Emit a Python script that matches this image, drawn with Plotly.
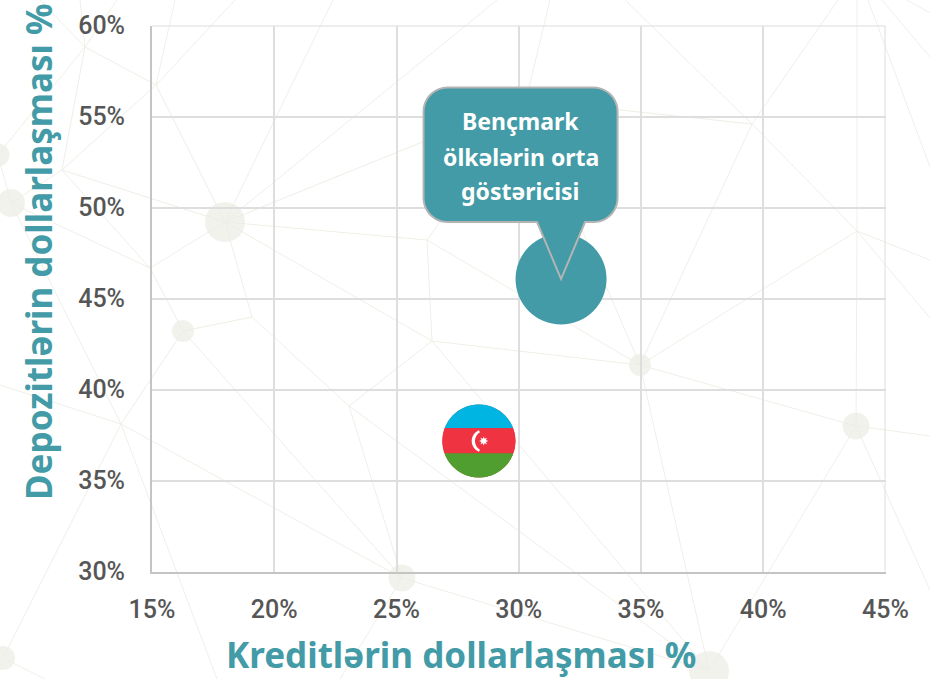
import math
import plotly.graph_objects as go

# ---- chart data (percent) ----
series_names = ["Bençmark ölkələrin orta göstəricisi", "Azərbaycan"]
credit_dollarization = [31.73, 28.37]
deposit_dollarization = [46.07, 37.17]
x_ticks = [15, 20, 25, 30, 35, 40, 45]
y_ticks = [30, 35, 40, 45, 50, 55, 60]
x_title = "Kreditlərin dollarlaşması %"
y_title = "Depozitlərin dollarlaşması %"
callout_lines = ["Bençmark", "ölkələrin orta", "göstəricisi"]
callout_line_y = [121, 157, 191]

# ---- decorative background network (page pixels) ----
bg_node_x = [225, 11, -2, 183, 402, 640, 856, 709, 3]
bg_node_y = [222, 203, 155, 331, 578, 365, 426, 671, 658]
bg_node_d = [40, 28, 23, 22, 27, 22, 27, 40, 24]
A, B, C, D, E, F, G, H, I = list(zip(bg_node_x, bg_node_y))
J1, J2, J3, J4, J5 = (85, 47), (156, 85), (62, 170), (150, 268), (252, 317)
J6, J7, J8, J9 = (121, 424), (349, 406), (427, 240), (432, 341)
J10, J11, K = (752, 124), (857, 231), (526, 100)
bg_edges = [
    (A, J8), (A, J9), (A, J5), (A, J2), (A, J3), (A, J4), (A, K), (A, (333, 0)), (A, (497, 0)),
    (J5, D), (J5, J7), (J7, J9), (J7, E), (J7, H), (J9, F), (J9, H), (J8, J9), (J8, F), (J8, K),
    (K, (550, 0)), (K, J10), (K, F),
    (J2, J1), (J2, J3), (J2, (175, 0)), (J2, (235, 0)), (J1, J3), (J1, (80, 0)), (J1, (117, 0)), (J1, (40, 0)), (J1, C),
    (J3, B), (B, C), (B, J4), (B, J6), (J3, J4), (J4, D),
    (J6, I), (J6, (0, 385)), (J6, D), (J6, (217, 679)), (J6, E), (D, E), (I, (45, 679)),
    (E, H), (E, (340, 679)),
    (F, J10), (F, J11), (F, G), (F, H), (G, H), (G, J11),
    (J10, (838, 0)), (J10, (625, 0)), (J10, J11), (J11, (857, 0)), (J11, (930, 260)), (J11, (930, 318)),
    (G, (930, 436)), (G, (930, 590)), ((868, 0), (930, 167)), ((882, 0), (930, 57)), ((907, 0), (930, 13)),
]

TEAL = "#429BA6"
TICK = "#565656"
GRID = "#DEDEDE"
AXIS = "#C4C4C4"
W, H_PX = 930, 679
PLOT_L, PLOT_R, PLOT_T, PLOT_B = 152, 885.5, 25.5, 571.5


def path(points):
    return "M" + " L".join(f"{x:.2f},{y:.2f}" for x, y in points) + " Z"


def band(r, top, bottom, n=60):
    """Part of a circle between two heights (pixels, up is positive)."""
    a0, a1 = math.asin(bottom / r), math.asin(top / r)
    right = [(r * math.cos(a0 + (a1 - a0) * i / n), r * math.sin(a0 + (a1 - a0) * i / n)) for i in range(n + 1)]
    left = [(-x, y) for x, y in reversed(right)]
    return right + left


def anchored(points, color, x, y, line=None, width=0):
    return dict(
        type="path", xref="x2", yref="y2", xsizemode="pixel", ysizemode="pixel",
        xanchor=x, yanchor=y, path=path(points), fillcolor=color,
        line=dict(color=line or color, width=width), layer="above",
    )


def crescent(cx1=4.3, r1=11.5, cx2=6.2, r2=10.1, n=40):
    a = math.radians(112)
    p = (cx1 + r1 * math.cos(a), r1 * math.sin(a))
    b = math.atan2(p[1], p[0] - cx2)
    outer = [(cx1 + r1 * math.cos(a + (2 * math.pi - 2 * a) * i / n), r1 * math.sin(a + (2 * math.pi - 2 * a) * i / n)) for i in range(n + 1)]
    inner = [(cx2 + r2 * math.cos(-b - (2 * math.pi - 2 * b) * i / n), r2 * math.sin(-b - (2 * math.pi - 2 * b) * i / n)) for i in range(n + 1)]
    return outer + inner


def star(cx=4.8, r=4.6, q=2.4, points=8):
    out = []
    for i in range(points * 2):
        rad = r if i % 2 == 0 else q
        t = math.pi * i / points + math.pi / 2
        out.append((cx + rad * math.cos(t), rad * math.sin(t)))
    return out


def callout(w_left=-137.5, w_right=56.5, top=191.5, bottom=57, rad=24, tail=24):
    """Rounded box with a pointer; (0, 0) is the tip, on the benchmark point."""
    pts = []
    corners = [
        (w_right - rad, top - rad, 90, 0),
        (w_right - rad, bottom + rad, 0, -90),
        (w_left + rad, bottom + rad, -90, -180),
        (w_left + rad, top - rad, 180, 90),
    ]
    for k, (cx, cy, s, e) in enumerate(corners):
        if k == 2:
            pts += [(tail, bottom), (0, 0), (-tail, bottom)]
        for i in range(13):
            t = math.radians(s + (e - s) * i / 12)
            pts.append((cx + rad * math.cos(t), cy + rad * math.sin(t)))
    return pts


edge_x, edge_y = [], []
for p, q in bg_edges:
    edge_x += [p[0], q[0], None]
    edge_y += [p[1], q[1], None]

fig = go.Figure()
fig.add_trace(go.Scatter(x=edge_x, y=edge_y, mode="lines", xaxis="x", yaxis="y",
                         line=dict(color="#EFEFE7", width=1), hoverinfo="skip", showlegend=False))
fig.add_trace(go.Scatter(x=bg_node_x, y=bg_node_y, mode="markers", xaxis="x", yaxis="y",
                         marker=dict(color="#ECEDE5", size=bg_node_d, line=dict(width=0)),
                         hoverinfo="skip", showlegend=False))
fig.add_trace(go.Scatter(x=credit_dollarization[:1], y=deposit_dollarization[:1], name=series_names[0],
                         mode="markers", xaxis="x2", yaxis="y2",
                         marker=dict(color=TEAL, size=91, line=dict(width=0)), showlegend=False))
fig.add_trace(go.Scatter(x=credit_dollarization[1:], y=deposit_dollarization[1:], name=series_names[1],
                         mode="markers", xaxis="x2", yaxis="y2",
                         marker=dict(color="#EF3340", size=73, line=dict(width=0)), showlegend=False))

fx, fy = credit_dollarization[1], deposit_dollarization[1]
bx, by = credit_dollarization[0], deposit_dollarization[0]
R = 36.6
edge_line = dict(color=GRID, width=2)
shapes = [
    dict(type="line", xref="x2", yref="y2", x0=x_ticks[-1], x1=x_ticks[-1], y0=y_ticks[0], y1=y_ticks[-1],
         line=edge_line, layer="below"),
    dict(type="line", xref="x2", yref="y2", x0=x_ticks[0], x1=x_ticks[-1], y0=y_ticks[-1], y1=y_ticks[-1],
         line=edge_line, layer="below"),
    anchored(band(R, R, 12.7), "#00B5E2", fx, fy),
    anchored(band(R, 12.7, -12.3), "#EF3340", fx, fy),
    anchored(band(R, -12.3, -R), "#509E2F", fx, fy),
    anchored(crescent(), "#FFFFFF", fx, fy),
    anchored(star(), "#FFFFFF", fx, fy),
    anchored(callout(), TEAL, bx, by, line="#B4B4B4", width=2),
]

annotations = [
    dict(text=f"<b>{line}</b>", xref="paper", yref="paper",
         x=520.5 / W, y=1 - py / H_PX, xanchor="center", yanchor="middle", showarrow=False,
         font=dict(family="Noto Sans", size=23, color="#FFFFFF"))
    for line, py in zip(callout_lines, callout_line_y)
] + [
    dict(text=f"<b>{x_title}</b>", xref="paper", yref="paper", x=461 / W, y=1 - 654 / H_PX,
         xanchor="center", yanchor="middle", showarrow=False,
         font=dict(family="Noto Sans", size=35, color=TEAL)),
    dict(text=f"<b>{y_title}</b>", xref="paper", yref="paper", x=38 / W, y=1 - 252 / H_PX,
         xanchor="center", yanchor="middle", showarrow=False, textangle=-90,
         font=dict(family="Noto Sans", size=35, color=TEAL)),
]

tick_font = dict(family="Roboto", size=25, color=TICK, weight=500)
fig.update_layout(
    template="none",
    width=W, height=H_PX, margin=dict(l=0, r=0, t=0, b=0, pad=0), autosize=False,
    paper_bgcolor="#FFFFFF", plot_bgcolor="rgba(0,0,0,0)", showlegend=False,
    shapes=shapes, annotations=annotations,
    xaxis=dict(domain=[0, 1], range=[0, W], visible=False, fixedrange=True, automargin=False),
    yaxis=dict(domain=[0, 1], range=[H_PX, 0], visible=False, fixedrange=True, automargin=False),
    xaxis2=dict(domain=[PLOT_L / W, PLOT_R / W], range=[x_ticks[0], x_ticks[-1]], anchor="y2", automargin=False,
                tickmode="array", tickvals=x_ticks, ticktext=[f"{v}%" for v in x_ticks],
                showgrid=True, gridcolor=GRID, gridwidth=2, zeroline=False,
                showline=True, linecolor=AXIS, linewidth=2,
                ticks="outside", ticklen=14, tickcolor="rgba(0,0,0,0)", tickfont=tick_font),
    yaxis2=dict(domain=[1 - PLOT_B / H_PX, 1 - PLOT_T / H_PX], range=[y_ticks[0], y_ticks[-1]], anchor="x2", automargin=False,
                tickmode="array", tickvals=y_ticks, ticktext=[f"{v}%" for v in y_ticks],
                showgrid=True, gridcolor=GRID, gridwidth=2, zeroline=False,
                showline=True, linecolor=AXIS, linewidth=2,
                ticks="outside", ticklen=20, tickcolor="rgba(0,0,0,0)", tickfont=tick_font),
)

fig.write_html("out.html", config=dict(displayModeBar=False),
               post_script="document.body.style.margin='0';document.body.style.overflow='hidden';")
